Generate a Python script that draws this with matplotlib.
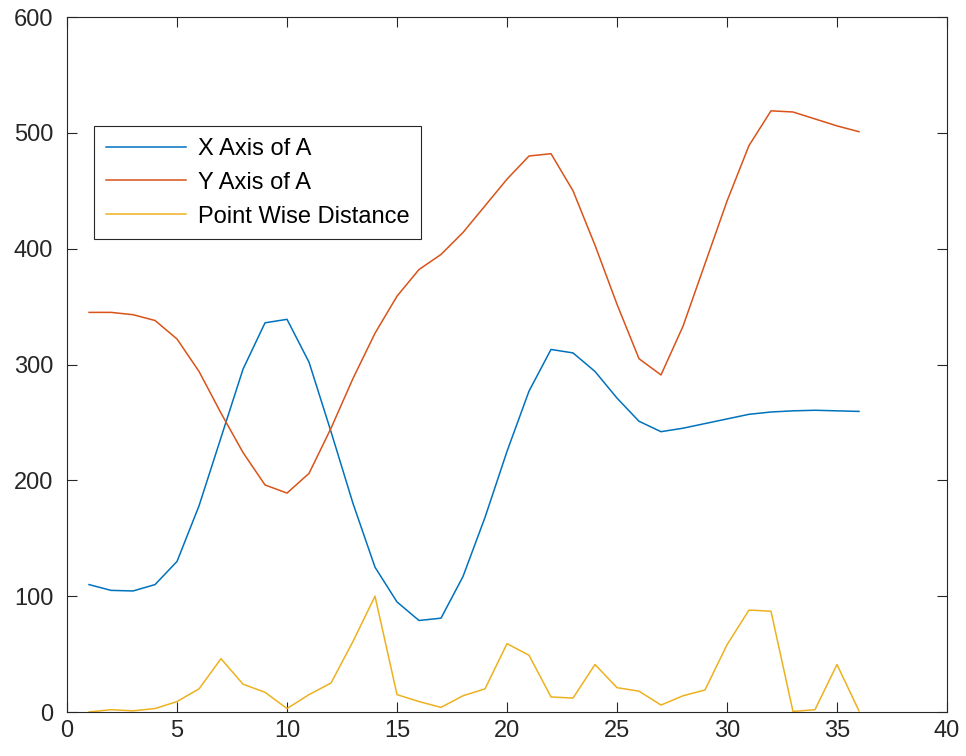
import numpy as np
import matplotlib
matplotlib.use("Agg")
import matplotlib.pyplot as plt

plt.rcParams['font.family'] = ['Liberation Sans', 'DejaVu Sans']

idx = np.arange(1, 37)
x_axis = [110, 105, 104.5, 110, 130, 178, 237, 296, 336, 339, 302, 242,
          180, 125, 95, 79, 81, 117, 168, 225, 277, 313, 310, 294,
          271, 251, 242, 245, 249, 253, 257, 259, 260, 260.5, 260, 259.5]
y_axis = [345, 345, 343, 338, 322, 294, 258, 224, 196, 189, 206, 245,
          288, 327, 359, 382, 395, 414, 437, 460, 480, 482, 450, 403,
          352, 305, 291, 333, 387, 441, 489, 519, 518, 512, 506, 501]
dist = [0, 2, 1, 3, 9, 20, 46, 24, 17, 3, 15, 25,
        61, 100, 15, 9, 4, 14, 20, 59, 49, 13, 12, 41,
        21, 18, 6, 14, 19, 58, 88, 87, 0.5, 2, 41, 1]

fig = plt.figure(figsize=(9.66, 7.56), dpi=100)
ax = fig.add_axes([0.0694, 0.0582, 0.9109, 0.9193])

ax.plot(idx, x_axis, color="#0072BD", lw=1.1, label="X Axis of A")
ax.plot(idx, y_axis, color="#D95319", lw=1.1, label="Y Axis of A")
ax.plot(idx, dist, color="#EDB120", lw=1.1, label="Point Wise Distance")

ax.set_xlim(0, 40)
ax.set_ylim(0, 600)
ax.set_xticks(range(0, 41, 5))
ax.set_yticks(range(0, 601, 100))
ax.tick_params(direction="in", top=True, right=True, length=7, width=0.8,
               labelsize=17, colors="#262626")
ax.tick_params(axis="x", pad=6)
ax.tick_params(axis="y", pad=10)
for s in ax.spines.values():
    s.set_color("#262626")
    s.set_linewidth(0.8)

leg = ax.legend(loc="upper left", bbox_to_anchor=(0.0307, 0.843), borderaxespad=0,
                fontsize=17, fancybox=False, framealpha=1, edgecolor="#262626",
                handlelength=3.4, handletextpad=0.5, labelspacing=0.5,
                borderpad=0.5)
leg.get_frame().set_linewidth(0.8)

fig.savefig("out.png", dpi=100)
